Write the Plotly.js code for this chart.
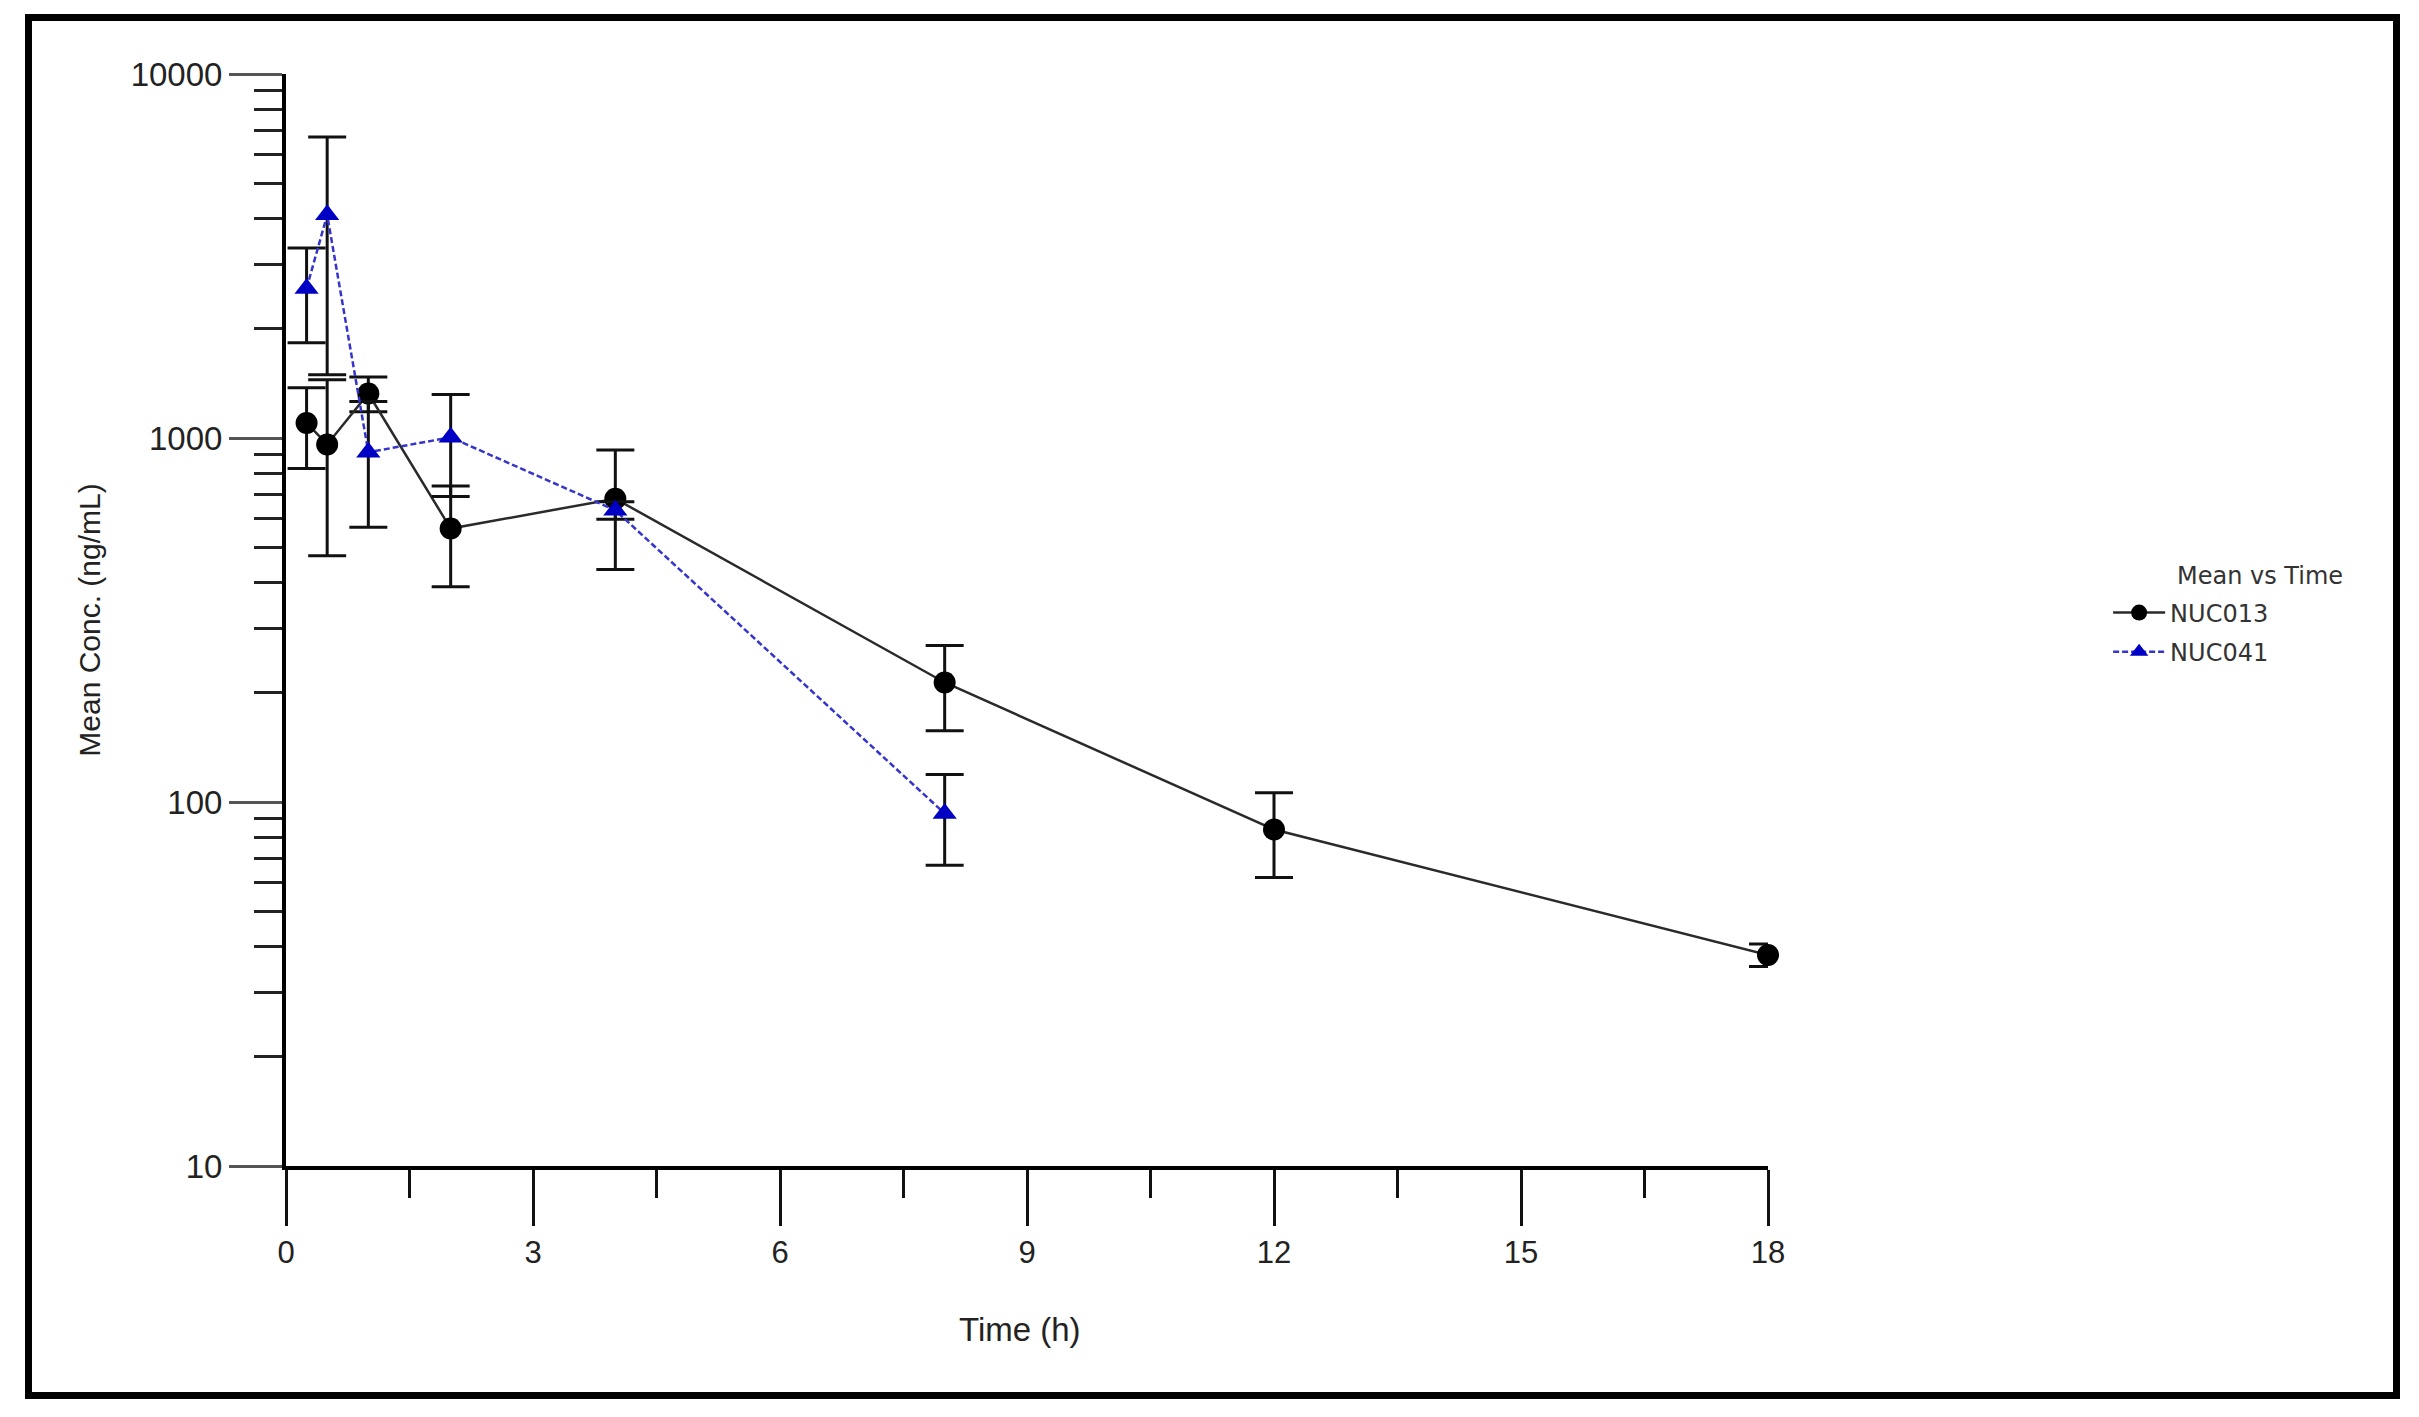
<!DOCTYPE html>
<html>
<head>
<meta charset="utf-8">
<script src="https://cdn.plot.ly/plotly-3.0.1.min.js"></script>
<style>
  html, body { margin: 0; padding: 0; background: #fff; }
  #wrap { position: relative; width: 2419px; height: 1417px; }
  #chart { position: absolute; left: 0; top: 0; width: 2419px; height: 1417px; }
  #frame { position: absolute; left: 25px; top: 14px; width: 2375px; height: 1385px;
           border: 7px solid #000; box-sizing: border-box; pointer-events: none; }
</style>
</head>
<body>
<div id="wrap">
  <div id="chart"></div>
  <div id="frame"></div>
</div>
<script>
// ---- data ----
var timeNUC013 = [0.25, 0.5, 1, 2, 4, 8, 12, 18];
var meanNUC013 = [1100, 960, 1325, 564, 681, 213, 84, 38];
var sdNUC013   = [275, 485, 145, 174, 246, 56, 22, 2.7];

var timeNUC041 = [0.25, 0.5, 1, 2, 4, 8];
var meanNUC041 = [2576, 4102, 914, 1004, 633, 93];
var sdNUC041   = [750, 2610, 345, 313, 35, 26];

var xTickVals = [0, 3, 6, 9, 12, 15, 18];
var xTickText = ['0', '3', '6', '9', '12', '15', '18'];
var yTickVals = [10, 100, 1000, 10000];
var yTickText = ['10', '100', '1000', '10000'];

var seriesNames = ['NUC013', 'NUC041'];
var legendTitle = 'Mean vs Time';
var xTitle = 'Time (h)';
var yTitle = 'Mean Conc. (ng/mL)';

// minor log ticks 2..9 per decade
var yMinorVals = [];
for (var d = 1; d <= 3; d++) {
  for (var k = 2; k <= 9; k++) yMinorVals.push(k * Math.pow(10, d));
}

var errStyle = { type: 'data', visible: true, color: '#111', thickness: 3, width: 19 };

var trace1 = {
  x: timeNUC013, y: meanNUC013, name: seriesNames[0], type: 'scatter', mode: 'lines+markers',
  line: { color: '#2a2a2a', width: 2.5 },
  marker: { symbol: 'circle', size: 22, color: '#000' },
  error_y: Object.assign({ array: sdNUC013 }, errStyle),
  cliponaxis: false, legendgroup: 'a'
};
var trace2 = {
  x: timeNUC041, y: meanNUC041, name: seriesNames[1], type: 'scatter', mode: 'lines+markers',
  line: { color: '#3535cc', width: 2.5, dash: '6px,3px' },
  marker: { symbol: 'triangle-up', size: 21, color: '#0000c4' },
  error_y: Object.assign({ array: sdNUC041 }, errStyle),
  cliponaxis: false, legendgroup: 'b'
};

var axisFont = 'Liberation Sans, Arial, sans-serif';

var layout = {
  width: 2419, height: 1417,
  margin: { l: 286, r: 651, t: 74, b: 251, autoexpand: false },
  paper_bgcolor: '#fff', plot_bgcolor: '#fff',
  showlegend: true,
  legend: {
    x: 1.2295, y: 0.527, xanchor: 'left', yanchor: 'top',
    font: { family: 'DejaVu Sans', size: 24, color: '#333' },
    bgcolor: 'rgba(0,0,0,0)', tracegroupgap: 5, itemwidth: 52, traceorder: 'grouped'
  },
  xaxis: {
    type: 'linear', range: [0, 18], fixedrange: true,
    showline: true, linecolor: '#000', linewidth: 4,
    showgrid: false, zeroline: false,
    tickmode: 'array', tickvals: xTickVals, ticktext: xTickText,
    ticks: 'outside', ticklen: 56, tickwidth: 3, tickcolor: '#111',
    tickfont: { family: axisFont, size: 31, color: '#222' },
    minor: { dtick: 1.5, tick0: 0, ticks: 'outside', ticklen: 28, tickwidth: 3, tickcolor: '#111', showgrid: false }
  },
  yaxis: {
    type: 'log', range: [1, 4], fixedrange: true,
    showline: true, linecolor: '#000', linewidth: 4,
    showgrid: false, zeroline: false,
    tickmode: 'array', tickvals: yTickVals, ticktext: yTickText,
    ticks: 'outside', ticklen: 53, tickwidth: 3, tickcolor: '#555',
    tickfont: { family: axisFont, size: 33, color: '#222' },
    minor: { tickmode: 'array', tickvals: yMinorVals, ticks: 'outside', ticklen: 28, tickwidth: 3, tickcolor: '#222', showgrid: false },
    title: { text: yTitle, standoff: 22,
             font: { family: axisFont, size: 30, color: '#222' } }
  },
  annotations: [{
    xref: 'paper', yref: 'paper', x: 1.2746, y: 0.5403, xanchor: 'left', yanchor: 'middle',
    text: legendTitle, showarrow: false,
    font: { family: 'DejaVu Sans', size: 24, color: '#333' }
  }, {
    xref: 'paper', yref: 'paper', x: 0.4955, y: -0.1495, xanchor: 'center', yanchor: 'middle',
    text: xTitle, showarrow: false,
    font: { family: axisFont, size: 33, color: '#222' }
  }]
};

Plotly.newPlot('chart', [trace1, trace2], layout, { staticPlot: true, displayModeBar: false });
</script>
</body>
</html>
